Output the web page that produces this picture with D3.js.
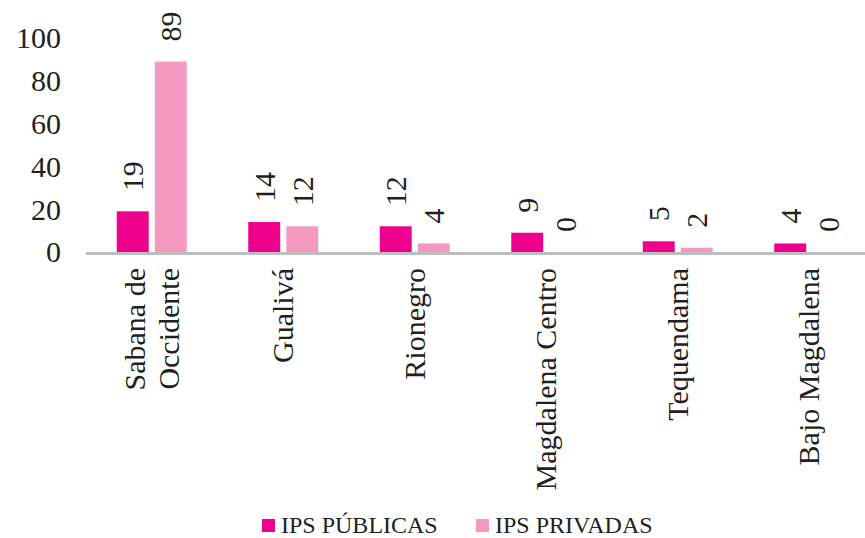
<!DOCTYPE html>
<html><head><meta charset="utf-8">
<script src="https://cdn.jsdelivr.net/npm/d3@7"></script>
<style>html,body{margin:0;padding:0;background:#fff;}svg{display:block;}</style>
</head><body>
<svg id="chart" width="865" height="538"></svg>
<script>
const categories = [["Sabana de","Occidente"],["Gualivá"],["Rionegro"],["Magdalena Centro"],["Tequendama"],["Bajo Magdalena"]];
const seriesNames = ["IPS PÚBLICAS","IPS PRIVADAS"];
const publicas = [19,14,12,9,5,4];
const privadas = [89,12,4,0,2,0];
const colors = ["#EC008C","#F49AC1"];
const yTicks = [0,20,40,60,80,100];

const svg = d3.select("#chart");
const font = "'Liberation Serif','Times New Roman',serif";
const catKeys = categories.map(c => c.join(" "));
const x0 = d3.scaleBand().domain(catKeys).range([86, 875]).paddingInner(0.468).paddingOuter(0.234);
const x1 = d3.scaleBand().domain(seriesNames).range([0, x0.bandwidth()]).paddingInner(0.16);
const y = d3.scaleLinear().domain([0,100]).range([252, 38]);
const series = [publicas, privadas];

// bars
series.forEach((vals, si) => {
  svg.append("g").selectAll("rect").data(vals).join("rect")
    .attr("x", (d,i) => x0(catKeys[i]) + x1(seriesNames[si]))
    .attr("y", d => y(d))
    .attr("width", x1.bandwidth())
    .attr("height", d => y(0) - y(d))
    .attr("fill", colors[si]);
  svg.append("g").selectAll("text").data(vals).join("text")
    .attr("transform", (d,i) => `translate(${x0(catKeys[i]) + x1(seriesNames[si]) + x1.bandwidth()/2},${y(d) - 20}) rotate(-90)`)
    .attr("dy", "0.35em")
    .attr("text-anchor", "start")
    .attr("font-family", font).attr("font-size", 30).attr("fill", "#231F20")
    .text(d => d);
});

// x axis line
svg.append("line").attr("x1", 86).attr("x2", 865).attr("y1", y(0)+1.5).attr("y2", y(0)+1.5)
  .attr("stroke", "#BCBEC0").attr("stroke-width", 3);

// y axis labels
const yAxis = d3.axisLeft(y).tickValues(yTicks).tickSize(0).tickPadding(0);
const ya = svg.append("g").attr("transform", "translate(61,0)").call(yAxis);
ya.select(".domain").remove();
ya.selectAll("text").attr("font-family", font).attr("font-size", 30).attr("fill", "#231F20").attr("dy","0.33em");

// category labels
categories.forEach((lines, i) => {
  const cx = x0(catKeys[i]) + x0.bandwidth()/2;
  const t = svg.append("text")
    .attr("transform", `translate(${cx},268) rotate(-90)`)
    .attr("text-anchor", "end")
    .attr("font-family", font).attr("font-size", 30).attr("fill", "#231F20");
  const lh = 34;
  lines.forEach((ln, j) => {
    const off = (j - (lines.length-1)/2) * lh + 10;
    t.append("tspan").attr("x", 0).attr("y", off).text(ln);
  });
});

// legend
const legX = [262, 476];
seriesNames.forEach((n, i) => {
  svg.append("rect").attr("x", legX[i]).attr("y", 519).attr("width", 13).attr("height", 13).attr("fill", colors[i]);
  svg.append("text").attr("x", legX[i] + 19).attr("y", 533)
    .attr("font-family", font).attr("font-size", 24).attr("fill", "#231F20").text(n);
});
</script>
</body></html>
